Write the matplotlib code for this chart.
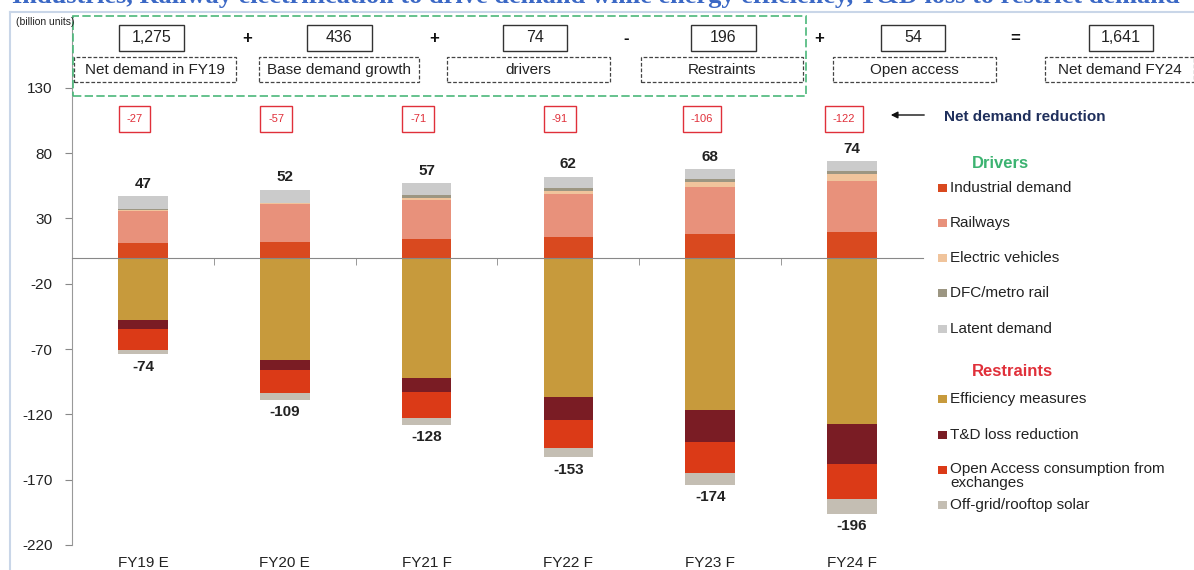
import numpy as np
import matplotlib
matplotlib.use("Agg")
import matplotlib.pyplot as plt
from matplotlib.patches import Rectangle
from matplotlib.transforms import blended_transform_factory

plt.rcParams['font.family'] = ['Liberation Sans', 'DejaVu Sans']
plt.rcParams['axes.unicode_minus'] = False

# data (billion units)
years = ['FY19 E', 'FY20 E', 'FY21 F', 'FY22 F', 'FY23 F', 'FY24 F']

industrial = [11, 12, 14, 16, 18, 20]
railways = [25, 29, 30, 33, 36, 39]
ev = [0.5, 0.5, 2, 2, 4, 5]
dfc = [1, 0.5, 2, 2, 2, 2]
latent = [9.5, 10, 9, 9, 8, 8]

efficiency = [48, 78, 92, 107, 117, 127]
td_loss = [7, 8, 11, 17, 24, 31]
open_access = [16, 18, 20, 22, 24, 27]
offgrid = [3, 5, 5, 7, 9, 11]

drivers_total = [47, 52, 57, 62, 68, 74]
restraints_total = [-74, -109, -128, -153, -174, -196]
net_reduction = [-27, -57, -71, -91, -106, -122]

header_values = ['1,275', '436', '74', '196', '54', '1,641']
header_labels = ['Net demand in FY19', 'Base demand growth', 'drivers',
                 'Restraints', 'Open access', 'Net demand FY24']
header_ops = ['+', '+', '-', '+', '=']

driver_series = [('Industrial demand', industrial, '#d9491f'),
                 ('Railways', railways, '#e8917b'),
                 ('Electric vehicles', ev, '#f0c49c'),
                 ('DFC/metro rail', dfc, '#9c9682'),
                 ('Latent demand', latent, '#cbcbcb')]
restraint_series = [('Efficiency measures', efficiency, '#c79a3c'),
                    ('T&D loss reduction', td_loss, '#7a1c24'),
                    ('Open Access consumption from\nexchanges', open_access, '#db3a17'),
                    ('Off-grid/rooftop solar', offgrid, '#c4beb3')]

W, H = 1194, 570
fig = plt.figure(figsize=(W / 100, H / 100), dpi=100)

def fx(px):
    return px / W

def fy(py):
    return 1 - py / H

ax = fig.add_axes([fx(72), fy(545), fx(923) - fx(72), fy(16) - fy(545)])

x = np.arange(len(years))
bw = 0.35

bottom = np.zeros(len(years))
for name, vals, col in driver_series:
    ax.bar(x, vals, bw, bottom=bottom, color=col, linewidth=0)
    bottom += np.array(vals)

bottom = np.zeros(len(years))
for name, vals, col in restraint_series:
    v = -np.array(vals, dtype=float)
    ax.bar(x, v, bw, bottom=bottom, color=col, linewidth=0)
    bottom += v

for i in range(len(years)):
    ax.text(x[i], drivers_total[i] + 4, str(drivers_total[i]), ha='center', va='bottom',
            fontsize=11, fontweight='bold', color='#222222')
    ax.text(x[i], restraints_total[i] - 4, str(restraints_total[i]), ha='center', va='top',
            fontsize=11, fontweight='bold', color='#222222')
    ax.text(x[i] - 0.06, 106, str(net_reduction[i]), ha='center', va='center',
            fontsize=8, color='#e0303a',
            bbox=dict(boxstyle='square,pad=0.7', fc='white', ec='#e0303a', lw=1))

ax.set_xlim(-0.5, 5.5)
ax.set_ylim(-220, 185)
ax.set_yticks([130, 80, 30, -20, -70, -120, -170, -220])
ax.tick_params(axis='y', length=5, width=0.8, color='#888888', pad=9, labelsize=11,
               labelcolor='#222222')
for s in ['top', 'right']:
    ax.spines[s].set_visible(False)
ax.spines['left'].set_color('#999999')
ax.spines['left'].set_bounds(-220, 185)
ax.spines['bottom'].set_position(('data', 0))
ax.spines['bottom'].set_color('#888888')
ax.set_xticks([])
ax.set_xticks(np.arange(0.5, 5.5, 1), minor=True)
ax.tick_params(axis='x', which='minor', length=5, color='#888888', direction='out')
ax.set_facecolor('none')

trans = blended_transform_factory(ax.transData, ax.transAxes)
for i, lab in enumerate(years):
    ax.text(x[i], -18 / 529, lab, transform=trans, ha='center', va='center',
            fontsize=11, color='#222222')

# outer frame and title (title is cropped at the top, as in the source)
fig.add_artist(plt.Line2D([fx(10), fx(10)], [fy(12), 0], color='#c9d6e8', lw=1.5))
fig.add_artist(plt.Line2D([fx(10), 1], [fy(12), fy(12)], color='#c9d6e8', lw=1.5))
fig.text(fx(12), fy(3), 'Industries, Railway electrification to drive demand while energy '
         'efficiency, T&D loss to restrict demand', ha='left', va='baseline',
         fontsize=19, fontweight='bold', color='#3b68c5', family='Liberation Serif')
fig.text(fx(16), fy(22), '(billion units)', ha='left', va='center', fontsize=7.5,
         color='#222222')

# header equation
val_boxes = [(119, 184), (307, 372), (503, 567), (691, 756), (881, 945), (1089, 1153)]
lab_boxes = [(74, 236), (259, 419), (447, 610), (641, 803), (833, 996), (1045, 1194)]
op_x = [247, 434, 626, 819, 1015]
for (a, b), v in zip(val_boxes, header_values):
    fig.add_artist(Rectangle((fx(a), fy(51)), fx(b) - fx(a), fy(25) - fy(51),
                             transform=fig.transFigure, fill=False, ec='#333333', lw=1))
    fig.text(fx((a + b) / 2), fy(38), v, ha='center', va='center', fontsize=11.5,
             color='#222222')
for (a, b), lab in zip(lab_boxes, header_labels):
    fig.add_artist(Rectangle((fx(a), fy(82)), fx(b) - fx(a), fy(57) - fy(82),
                             transform=fig.transFigure, fill=False, ec='#444444', lw=0.9,
                             ls=(0, (3, 1.5))))
    fig.text(fx((a + b) / 2), fy(70), lab, ha='center', va='center', fontsize=11,
             color='#222222')
for px, op in zip(op_x, header_ops):
    fig.text(fx(px), fy(39), op, ha='center', va='center', fontsize=12,
             fontweight='bold', color='#111111')
fig.add_artist(Rectangle((fx(73), fy(96)), fx(806) - fx(73), fy(16) - fy(96),
                         transform=fig.transFigure, fill=False, ec='#4cb87a', lw=1.2,
                         ls=(0, (5, 2))))

# net demand reduction pointer
fig.add_artist(matplotlib.patches.FancyArrowPatch((fx(927), fy(115)), (fx(888), fy(115)),
                                                  transform=fig.transFigure,
                                                  arrowstyle='-|>,head_length=4,head_width=2',
                                                  color='#111111', lw=1))
fig.text(fx(944), fy(117), 'Net demand reduction', ha='left', va='center', fontsize=11,
         fontweight='bold', color='#1f2f5c')

# legend
fig.text(fx(1000), fy(163), 'Drivers', ha='center', va='center', fontsize=12,
         fontweight='bold', color='#3cb371')
fig.text(fx(1012), fy(372), 'Restraints', ha='center', va='center', fontsize=12,
         fontweight='bold', color='#e0303a')
leg_y = [188, 223, 258, 293, 329, 399, 435, 470, 505]
items = driver_series + restraint_series
for (name, vals, col), py in zip(items, leg_y):
    fig.add_artist(Rectangle((fx(938), fy(py + 4)), fx(9), 8 / H,
                             transform=fig.transFigure, fc=col, ec='none'))
    va = 'top' if '\n' in name else 'center'
    ty = py - 8 if '\n' in name else py
    fig.text(fx(950), fy(ty), name, ha='left', va=va, fontsize=11, color='#222222',
             linespacing=1.0)

fig.savefig('out.png', dpi=100)
